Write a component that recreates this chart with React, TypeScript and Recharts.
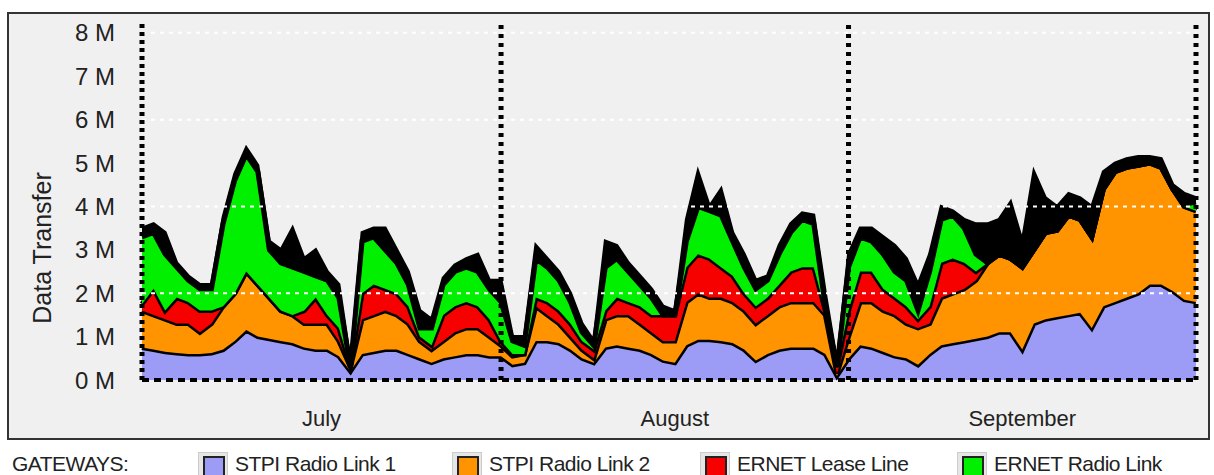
import { AreaChart, Area, XAxis, YAxis, ReferenceLine } from 'recharts';

// day index from 1 July
const days = Array.from({ length: 92 }, (_, i) => i);

// daily data transfer per gateway, in M (stacked)
const stpiRadio1 = [
  0.75, 0.7, 0.65, 0.62, 0.6, 0.6, 0.62, 0.7, 0.9, 1.15, 1.0, 0.95, 0.9, 0.85, 0.75, 0.7,
  0.7, 0.55, 0.2, 0.6, 0.65, 0.7, 0.7, 0.6, 0.5, 0.4, 0.5, 0.55, 0.6, 0.6, 0.55,
  0.55, 0.35, 0.4, 0.9, 0.9, 0.85, 0.7, 0.5, 0.4, 0.75, 0.8, 0.75, 0.7, 0.6, 0.45, 0.4,
  0.8, 0.93, 0.93, 0.9, 0.85, 0.7, 0.45, 0.6, 0.7, 0.75, 0.75, 0.75, 0.6, 0.1, 0.5,
  0.8, 0.75, 0.65, 0.55, 0.5, 0.35, 0.6, 0.8, 0.85, 0.9, 0.95, 1.0, 1.1, 1.1, 0.7, 1.3,
  1.4, 1.45, 1.5, 1.55, 1.2, 1.7, 1.8, 1.9, 2.0, 2.2, 2.2, 2.05, 1.85, 1.8,
];
const stpiRadio2 = [
  0.85, 0.8, 0.75, 0.68, 0.7, 0.5, 0.68, 1.0, 1.1, 1.35, 1.2, 0.95, 0.7, 0.65, 0.55, 0.6,
  0.6, 0.35, 0.1, 0.8, 0.85, 0.9, 0.8, 0.7, 0.4, 0.3, 0.4, 0.55, 0.6, 0.6, 0.45,
  0.25, 0.2, 0.2, 0.8, 0.6, 0.45, 0.3, 0.2, 0.1, 0.65, 0.7, 0.75, 0.6, 0.5, 0.45, 0.5,
  1.0, 1.07, 0.97, 1.0, 0.95, 0.9, 0.85, 0.9, 1.0, 1.05, 1.05, 1.05, 0.9, 0.05, 0.5,
  1.0, 1.05, 0.95, 0.95, 0.8, 0.85, 0.7, 1.1, 1.15, 1.2, 1.35, 1.7, 1.8, 1.7, 1.9, 1.7,
  2.0, 2.0, 2.3, 2.15, 2.1, 2.7, 3.0, 3.0, 2.95, 2.8, 2.7, 2.35, 2.15, 2.1,
];
const ernetLease = [
  0.15, 0.6, 0.2, 0.6, 0.5, 0.5, 0.3, 0, 0, 0, 0, 0, 0, 0, 0.3, 0.6,
  0.2, 0.3, 0, 0.6, 0.7, 0.5, 0.5, 0.4, 0.1, 0.1, 0.6, 0.6, 0.6, 0.5, 0.4,
  0.1, 0.05, 0, 0.2, 0.3, 0.3, 0.3, 0.2, 0.2, 0.2, 0.4, 0.3, 0.4, 0.4, 0.6, 0.6,
  0.8, 0.9, 0.9, 0.7, 0.6, 0.4, 0.4, 0.4, 0.5, 0.7, 0.8, 0.8, 0.1, 0.15, 0.6,
  0.7, 0.7, 0.5, 0.4, 0.4, 0.2, 0.4, 0.8, 0.8, 0.6, 0.2, 0, 0, 0, 0, 0,
  0, 0, 0, 0, 0, 0, 0, 0, 0, 0, 0, 0, 0, 0,
];
const ernetRadio = [
  1.55, 1.3, 1.3, 0.7, 0.5, 0.5, 0.5, 1.9, 2.6, 2.7, 2.6, 1.1, 1.1, 1.1, 0.9, 0.5,
  0.8, 0.7, 0, 1.2, 1.1, 0.9, 0.7, 0.5, 0.2, 0.4, 0.7, 0.8, 0.8, 0.8, 0.7,
  0.9, 0.3, 0.2, 0.9, 0.8, 0.7, 0.5, 0.2, 0.1, 1.0, 0.9, 0.7, 0.5, 0.4, 0, 0,
  0.6, 1.1, 1.1, 1.2, 0.8, 0.6, 0.4, 0.4, 0.7, 0.9, 1.1, 1.0, 0.1, 0, 1.0,
  0.8, 0.7, 0.8, 0.6, 0.6, 0.2, 0.8, 1.0, 1.0, 0.8, 0.4, 0, 0, 0, 0, 0,
  0, 0, 0, 0, 0, 0, 0, 0, 0, 0, 0, 0, 0.05, 0.2,
];
// unattributed traffic, drawn black on top
const other = [
  0.2, 0.2, 0.5, 0.1, 0.1, 0.1, 0.1, 0.15, 0.15, 0.15, 0.15, 0.2, 0.3, 0.9, 0.3, 0.6,
  0.2, 0.3, 0.1, 0.2, 0.2, 0.5, 0.3, 0.3, 0.4, 0.2, 0.15, 0.15, 0.2, 0.4, 0.2,
  0.5, 0.1, 0.2, 0.3, 0.2, 0.2, 0.2, 0.2, 0.1, 0.6, 0.3, 0.2, 0.2, 0.2, 0.2, 0.1,
  0.5, 0.8, 0.1, 0.6, 0.2, 0.3, 0.2, 0.1, 0.2, 0.2, 0.15, 0.2, 0.3, 0.1, 0.3,
  0.2, 0.3, 0.4, 0.6, 0.5, 0.6, 0.4, 0.3, 0.1, 0.2, 0.7, 0.9, 0.8, 1.3, 0.6, 1.8,
  0.8, 0.55, 0.5, 0.5, 0.7, 0.4, 0.2, 0.2, 0.2, 0.15, 0.2, 0.1, 0.25, 0.1,
];

const yTicks = [0, 1, 2, 3, 4, 5, 6, 7, 8];
const gridLevels = [2, 4, 6, 8];
const monthBreaks = [31, 61, 91];
const monthTicks = [15.5, 46, 76];
const monthNames = ['July', 'August', 'September'];

const gateways = [
  { key: 'stpi1', name: 'STPI Radio Link 1', color: '#9c9cf7' },
  { key: 'stpi2', name: 'STPI Radio Link 2', color: '#ff9400' },
  { key: 'lease', name: 'ERNET Lease Line', color: '#f60000' },
  { key: 'radio', name: 'ERNET Radio Link', color: '#00f000' },
];

const data = days.map((d, i) => ({
  day: d,
  stpi1: stpiRadio1[i],
  stpi2: stpiRadio2[i],
  lease: ernetLease[i],
  radio: ernetRadio[i],
  other: other[i],
}));

const font = '"Liberation Sans", Arial, sans-serif';
const legendX = [198, 452, 700, 957];

export default function App() {
  return (
    <div style={{ position: 'absolute', left: 0, top: 0, width: 1214, height: 475, background: '#fff', fontFamily: font, color: '#222', overflow: 'hidden' }}>
      <div style={{ position: 'absolute', left: 7, top: 12, width: 1203, height: 428, boxSizing: 'border-box', border: '2px solid #333', background: '#f0f0f0' }} />
      <div style={{ position: 'absolute', left: 0, top: 0 }}>
        <AreaChart width={1214} height={475} data={data} margin={{ top: 22, right: 18, bottom: 45, left: 82 }}>
          <XAxis
            dataKey="day"
            type="number"
            domain={[0, 91]}
            ticks={monthTicks}
            tickFormatter={(v: number) => monthNames[monthTicks.indexOf(v)]}
            axisLine={false}
            tickLine={false}
            tickSize={0}
            tickMargin={30}
            height={50}
            tick={{ fontSize: 22, fill: '#222', fontFamily: font }}
          />
          <YAxis
            domain={[0, 8.25]}
            ticks={yTicks}
            tickFormatter={(v: number) => `${v} M`}
            axisLine={false}
            tickLine={false}
            tickSize={0}
            tickMargin={27}
            width={60}
            tick={{ fontSize: 24, fill: '#222', fontFamily: font }}
          />
          {gateways.map((g) => (
            <Area
              key={g.key}
              type="linear"
              dataKey={g.key}
              name={g.name}
              stackId="1"
              fill={g.color}
              fillOpacity={1}
              stroke="#000"
              strokeWidth={5}
              isAnimationActive={false}
            />
          ))}
          <Area type="linear" dataKey="other" stackId="1" fill="#000" fillOpacity={1} stroke="#000" strokeWidth={3} isAnimationActive={false} />
          {gridLevels.map((y) => (
            <ReferenceLine key={y} y={y} stroke="#fff" strokeWidth={2} strokeDasharray="4 5" />
          ))}
          <ReferenceLine y={0} stroke="#000" strokeWidth={4} strokeDasharray="7 5" />
          <ReferenceLine x={0} stroke="#000" strokeWidth={5} strokeDasharray="4 4" />
          {monthBreaks.map((x) => (
            <ReferenceLine key={x} x={x} stroke="#000" strokeWidth={5} strokeDasharray="4 5" />
          ))}
        </AreaChart>
      </div>
      <div style={{ position: 'absolute', left: 42, top: 248, transform: 'translate(-50%, -50%) rotate(-90deg)', whiteSpace: 'nowrap', fontSize: 25 }}>
        Data Transfer
      </div>
      <div style={{ position: 'absolute', left: 12, top: 452, fontSize: 21, lineHeight: '24px', letterSpacing: -0.5 }}>GATEWAYS:</div>
      {gateways.map((g, i) => (
        <div key={g.key}>
          <div style={{ position: 'absolute', left: legendX[i], top: 452, width: 30, height: 30, boxSizing: 'border-box', border: '1px solid #ccc', background: '#e6e6e6' }}>
            <div style={{ position: 'absolute', left: 4, top: 3, width: 22, height: 22, boxSizing: 'border-box', border: '2px solid #222', background: g.color }} />
          </div>
          <div style={{ position: 'absolute', left: legendX[i] + 37, top: 452, fontSize: 21, lineHeight: '24px', letterSpacing: -0.5, whiteSpace: 'nowrap' }}>
            {g.name}
          </div>
        </div>
      ))}
    </div>
  );
}
